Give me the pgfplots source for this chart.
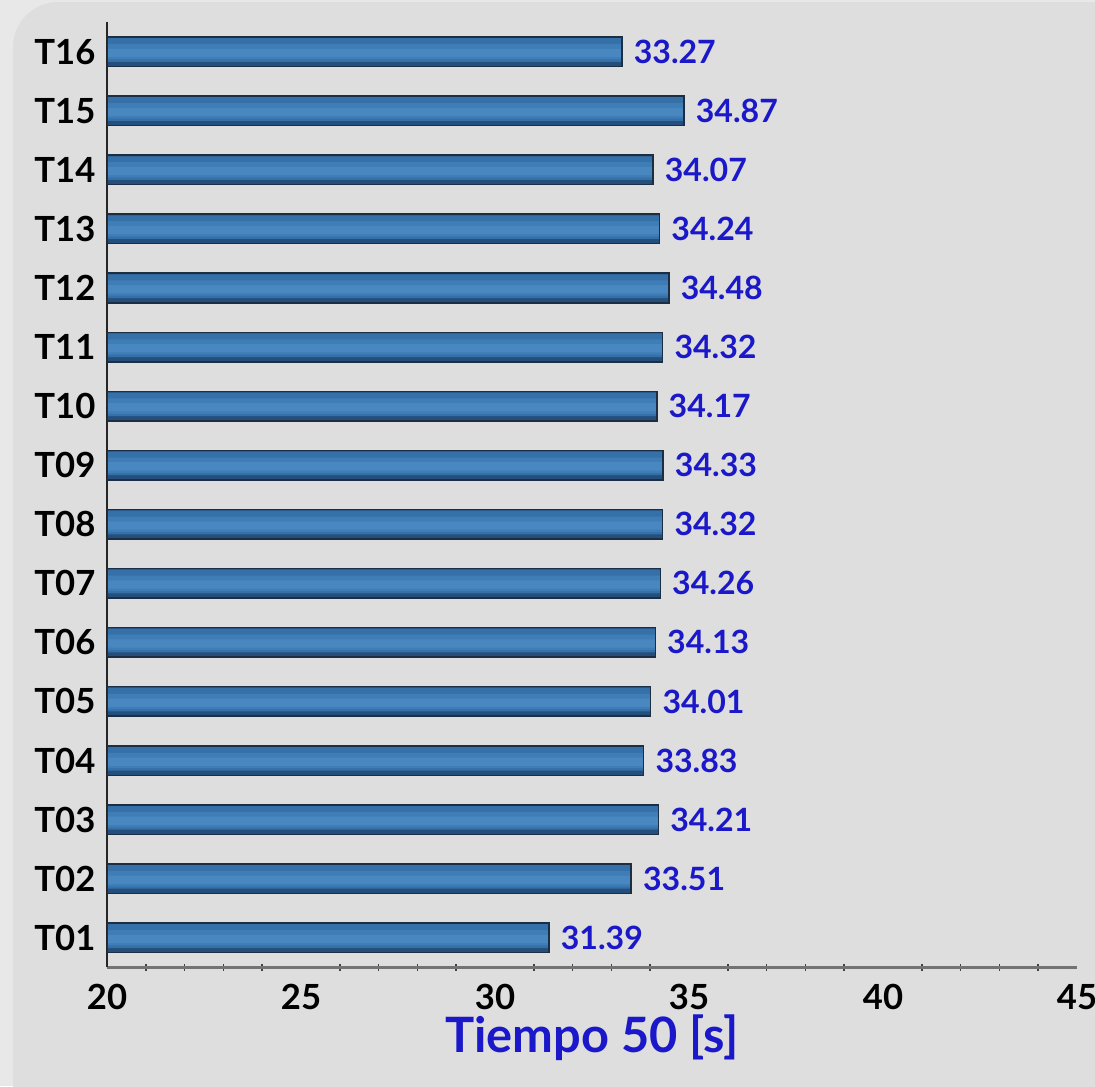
\documentclass[border=0pt]{standalone}
\usepackage{pgfplots}
\pgfplotsset{compat=1.18}
\usepackage{fontspec}
\setmainfont{Lato}

\definecolor{outerbg}{HTML}{E8E8E8}
\definecolor{panelbg}{HTML}{DEDEDE}
\definecolor{barbase}{HTML}{244F7C}
\definecolor{barA}{HTML}{3570A9}
\definecolor{barB}{HTML}{3F7DB7}
\definecolor{barC}{HTML}{4887C0}
\definecolor{barline}{HTML}{1B2E44}
\definecolor{valblue}{HTML}{1A18C8}

\pgfplotstableread{
val pos
31.39 1
33.51 2
34.21 3
33.83 4
34.01 5
34.13 6
34.26 7
34.32 8
34.33 9
34.17 10
34.32 11
34.48 12
34.24 13
34.07 14
34.87 15
33.27 16
}\times

\begin{document}
\begin{tikzpicture}
% background panel, in reference pixels
\begin{scope}[x=0.013699cm,y=0.013699cm]
\fill[outerbg] (0,0) rectangle (1095,-1086);
\begin{scope}
\clip (0,0) rectangle (1095,-1086);
\fill[panelbg, rounded corners=0.62cm] (13,-2) rectangle (1150,-1140);
\end{scope}
\coordinate (org) at (107,-967);
\end{scope}

\begin{axis}[
    at={(org)}, anchor=south west,
    scale only axis,
    width=13.288cm, height=12.946cm,
    xbar, bar width=0.5,
    xmin=20, xmax=45, ymin=0.5, ymax=16.5,
    axis lines*=left,
    x axis line style={draw=black!55, line width=1.2pt},
    y axis line style={draw=black!85, line width=0.6pt},
    xtick={20,25,...,45},
    minor x tick num=4,
    major tick length=0pt,
    minor tick length=0.09cm,
    tick align=center,
    minor x tick style={draw=black!75, line width=0.6pt},
    ytick={1,...,16},
    yticklabels={T01,T02,T03,T04,T05,T06,T07,T08,T09,T10,T11,T12,T13,T14,T15,T16},
    ytick style={draw=none},
    yticklabel style={font=\fontsize{13.5}{15}\selectfont\bfseries, xshift=-1pt},
    xticklabel style={font=\fontsize{13.5}{15}\selectfont\bfseries, yshift=-3pt},
    /pgf/number format/assume math mode=true,
    xlabel={Tiempo 50 [s]},
    xlabel style={font=\fontsize{19}{21}\selectfont\bfseries, text=valblue, yshift=5pt},
]
% bars built from layers to imitate the glossy gradient
\addplot[bar shift=0pt, draw=none, fill=barbase] table[x=val, y=pos] {\times};
\addplot[bar shift=0.03, bar width=0.40, draw=none, fill=barA] table[x=val, y=pos] {\times};
\addplot[bar shift=0.0, bar width=0.26, draw=none, fill=barB] table[x=val, y=pos] {\times};
\addplot[bar shift=-0.02, bar width=0.14, draw=none, fill=barC] table[x=val, y=pos] {\times};
\addplot[bar shift=0pt, draw=barline, line width=0.6pt, fill=none,
    nodes near coords={\pgfmathprintnumber[fixed,zerofill,precision=2]{\pgfplotspointmeta}},
    nodes near coords style={font=\fontsize{12.5}{14}\selectfont\bfseries, text=valblue, anchor=west, xshift=1pt},
] table[x=val, y=pos] {\times};
\end{axis}

% fix the page to the reference's size
\pgfresetboundingbox
\path[use as bounding box] (0,0) rectangle (15cm,-14.877cm);
\end{tikzpicture}
\end{document}
